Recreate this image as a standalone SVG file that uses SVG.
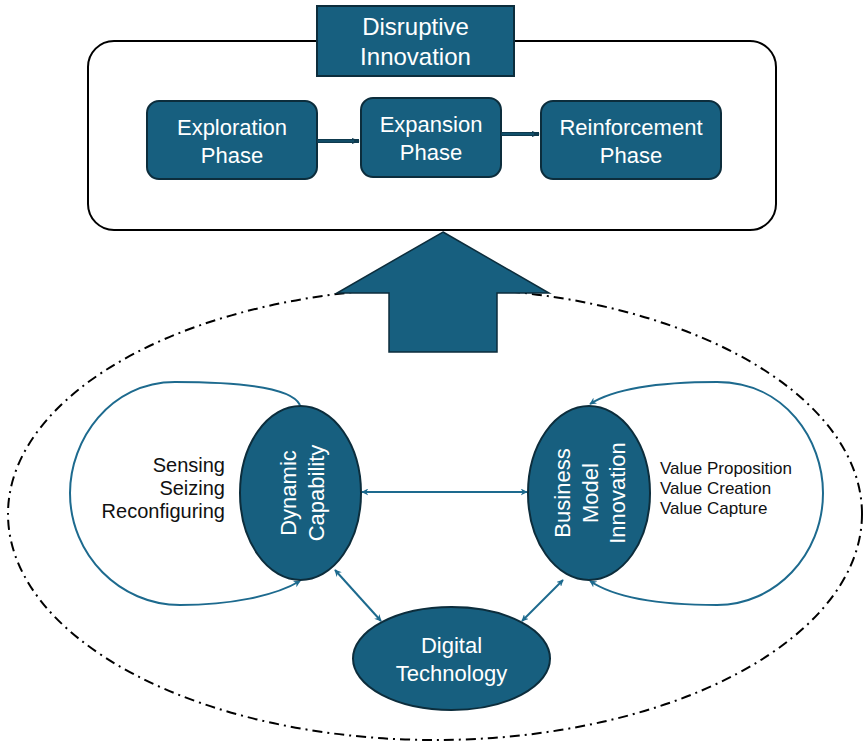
<svg xmlns="http://www.w3.org/2000/svg" width="864" height="742" viewBox="0 0 864 742">
<defs>
<style>
.node{fill:#175f7f;stroke:#0c2d3c;stroke-width:2}
.wt{fill:#ffffff;font-family:"Liberation Sans",Arial,sans-serif;text-anchor:middle}
.bt{fill:#111111;font-family:"Liberation Sans",Arial,sans-serif}
.conn{fill:none;stroke:#1d6a8e;stroke-width:2}
</style>
<marker id="ah" viewBox="0 0 10 10" refX="9" refY="5" markerWidth="7" markerHeight="7" orient="auto-start-reverse" markerUnits="userSpaceOnUse">
<path d="M0,0 L10,5 L0,10 L3,5 Z" fill="#1d6a8e"/>
</marker>
<marker id="ahd" viewBox="0 0 10 10" refX="9" refY="5" markerWidth="8" markerHeight="8" orient="auto" markerUnits="userSpaceOnUse">
<path d="M0,1 L10,5 L0,9 Z" fill="#0e3a4e"/>
</marker>
</defs>
<rect width="864" height="742" fill="#ffffff"/>

<g id="outer-frame">
<rect x="88" y="41" width="688" height="189" rx="26" fill="#ffffff" stroke="#000000" stroke-width="2"/>
</g>

<g id="disruptive-innovation">
<rect class="node" x="317" y="6" width="197" height="70"/>
<text class="wt" font-size="24"><tspan x="415.5" y="35">Disruptive</tspan><tspan x="415.5" y="65">Innovation</tspan></text>
</g>

<g id="exploration-phase">
<rect class="node" x="147" y="101" width="170" height="78" rx="12"/>
<text class="wt" font-size="22"><tspan x="232" y="135">Exploration</tspan><tspan x="232" y="163">Phase</tspan></text>
</g>

<g id="expansion-phase">
<rect class="node" x="361" y="98" width="140" height="79" rx="12"/>
<text class="wt" font-size="22"><tspan x="431" y="132">Expansion</tspan><tspan x="431" y="160">Phase</tspan></text>
</g>

<g id="reinforcement-phase">
<rect class="node" x="541" y="101" width="180" height="78" rx="12"/>
<text class="wt" font-size="22"><tspan x="631" y="135">Reinforcement</tspan><tspan x="631" y="163">Phase</tspan></text>
</g>

<g id="boundary">
<ellipse cx="435" cy="514" rx="427" ry="226" fill="none" stroke="#000000" stroke-width="2" stroke-dasharray="10 5 2 5"/>
</g>

<g id="big-arrow">
<polygon points="443,232 549,293 497,293 497,352 389,352 389,293 337,293" fill="#175f7f" stroke="#0c2d3c" stroke-width="1.5"/>
</g>

<g id="connectors">
<line x1="317" y1="141" x2="359" y2="141" stroke="#0e3a4e" stroke-width="4" marker-end="url(#ahd)"/>
<line x1="318" y1="141" x2="354" y2="141" stroke="#175f7f" stroke-width="1.2"/>
<line x1="501" y1="134" x2="539" y2="134" stroke="#0e3a4e" stroke-width="4" marker-end="url(#ahd)"/>
<line x1="502" y1="134" x2="534" y2="134" stroke="#175f7f" stroke-width="1.2"/>
<path class="conn" d="M300,405 C292,388 240,382 175,382 C110,382 70,440 70,493 C70,555 120,605 180,605 C230,605 275,596 300,581" marker-end="url(#ah)"/>
<path class="conn" d="M590,404 C612,390 650,382 717,382 C785,382 823,440 823,493 C823,555 775,605 717,605 C660,605 615,598 590,581" marker-start="url(#ah)" marker-end="url(#ah)"/>
<line class="conn" x1="362" y1="492" x2="527" y2="492" marker-start="url(#ah)" marker-end="url(#ah)"/>
<line class="conn" x1="335" y1="570" x2="381" y2="621" marker-start="url(#ah)" marker-end="url(#ah)"/>
<line class="conn" x1="563" y1="580" x2="522" y2="621" marker-start="url(#ah)" marker-end="url(#ah)"/>
</g>

<g id="dynamic-capability">
<ellipse class="node" cx="300.5" cy="493" rx="60.5" ry="87"/>
<text class="wt" font-size="22" transform="translate(300.5,493) rotate(-90)"><tspan x="0" y="-5">Dynamic</tspan><tspan x="0" y="23">Capability</tspan></text>
</g>

<g id="business-model-innovation">
<ellipse class="node" cx="589" cy="493" rx="61" ry="87"/>
<text class="wt" font-size="22" transform="translate(589,493) rotate(-90)"><tspan x="0" y="-19">Business</tspan><tspan x="0" y="9">Model</tspan><tspan x="0" y="36">Innovation</tspan></text>
</g>

<g id="digital-technology">
<ellipse class="node" cx="451.5" cy="658.5" rx="98.5" ry="51.5"/>
<text class="wt" font-size="22"><tspan x="451.5" y="653">Digital</tspan><tspan x="451.5" y="681">Technology</tspan></text>
</g>

<g id="dc-labels">
<text class="bt" font-size="20" text-anchor="end"><tspan x="225" y="472">Sensing</tspan><tspan x="225" y="495">Seizing</tspan><tspan x="225" y="518">Reconfiguring</tspan></text>
</g>

<g id="bmi-labels">
<text class="bt" font-size="17"><tspan x="660" y="474">Value Proposition</tspan><tspan x="660" y="494">Value Creation</tspan><tspan x="660" y="514">Value Capture</tspan></text>
</g>
</svg>
